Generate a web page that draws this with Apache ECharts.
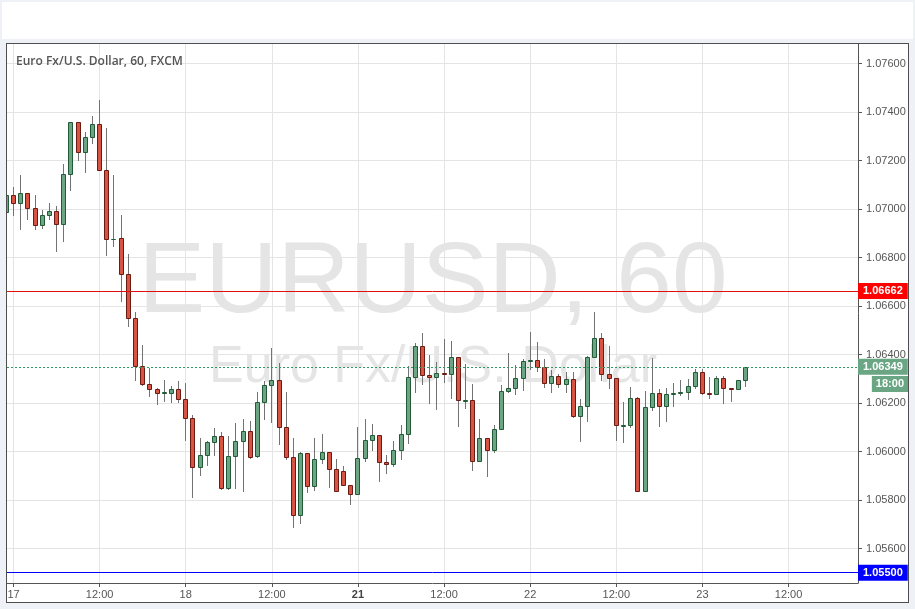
<!DOCTYPE html>
<html><head><meta charset="utf-8">
<script src="https://cdn.jsdelivr.net/npm/echarts@6/dist/echarts.min.js"></script>
<style>
html,body{margin:0;padding:0;width:915px;height:609px;background:#eef2f6;overflow:hidden}
#topbar{position:absolute;left:2px;top:2px;width:911px;height:37px;background:#fff}
#frame{position:absolute;left:6px;top:43px;width:901px;height:558px;background:#fff;border:1px solid #4e4e4e}
#chart{position:absolute;left:0;top:0;width:915px;height:609px}
</style></head>
<body>
<div id="topbar"></div>
<div id="frame"></div>
<div id="chart"></div>
<script>
// ---- data (hourly candles, EUR/USD, FXCM) ----
const opens  = [1.06986,1.07057,1.07024,1.07065,1.07003,1.06933,1.06974,1.06991,1.06937,1.07143,
1.07358,1.07234,1.07296,1.07349,1.07160,1.06876,1.06879,1.06731,1.06549,1.06354,
1.06277,1.06259,1.06243,1.06243,1.06257,1.06218,1.06139,1.05937,1.05984,1.06038,
1.06063,1.05848,1.05980,1.06042,1.06083,1.05983,1.06203,1.06273,1.06294,1.06100,
1.05979,1.05737,1.05993,1.05857,1.05968,1.05997,1.05927,1.05918,1.05861,1.05824,
1.05972,1.06046,1.06067,1.05956,1.05947,1.06005,1.06071,1.06306,1.06434,1.06314,
1.06306,1.06323,1.06320,1.06389,1.06210,1.06213,1.05960,1.06054,1.06005,1.06092,
1.06248,1.06261,1.06302,1.06372,1.06376,1.06347,1.06281,1.06310,1.06277,1.06298,
1.06145,1.06186,1.06389,1.06467,1.06318,1.06302,1.06107,1.06110,1.06219,1.05836,
1.06182,1.06240,1.06186,1.06237,1.06240,1.06244,1.06269,1.06327,1.06242,1.06236,
1.06302,1.06261,1.06257,1.06294];
const highs  = [1.07060,1.07091,1.07140,1.07066,1.07058,1.06996,1.07025,1.07011,1.07186,1.07360,
1.07360,1.07318,1.07384,1.07450,1.07333,1.07140,1.06974,1.06815,1.06575,1.06439,
1.06344,1.06260,1.06295,1.06270,1.06291,1.06283,1.06150,1.06054,1.06045,1.06097,
1.06080,1.06063,1.06118,1.06133,1.06126,1.06245,1.06290,1.06427,1.06366,1.06245,
1.06054,1.05997,1.05995,1.06054,1.06071,1.05999,1.05969,1.05939,1.05862,1.06100,
1.06133,1.06112,1.06068,1.05984,1.06045,1.06108,1.06351,1.06446,1.06489,1.06397,
1.06368,1.06464,1.06456,1.06390,1.06360,1.06277,1.06134,1.06055,1.06108,1.06273,
1.06405,1.06357,1.06380,1.06492,1.06450,1.06380,1.06336,1.06318,1.06328,1.06328,
1.06215,1.06393,1.06574,1.06487,1.06434,1.06303,1.06203,1.06265,1.06223,1.06248,
1.06384,1.06257,1.06261,1.06281,1.06295,1.06298,1.06339,1.06339,1.06306,1.06310,
1.06310,1.06262,1.06295,1.06350];
const lows   = [1.06980,1.06977,1.06919,1.06960,1.06919,1.06923,1.06960,1.06828,1.06869,1.07080,
1.07203,1.07154,1.07271,1.07159,1.06812,1.06849,1.06622,1.06519,1.06296,1.06276,
1.06230,1.06197,1.06210,1.06205,1.06205,1.06047,1.05814,1.05903,1.05944,1.05986,
1.05847,1.05845,1.05848,1.05838,1.05974,1.05976,1.06135,1.06123,1.06032,1.05970,
1.05690,1.05706,1.05834,1.05843,1.05954,1.05855,1.05835,1.05860,1.05785,1.05823,
1.05962,1.06007,1.05880,1.05910,1.05942,1.05970,1.06036,1.06247,1.06277,1.06198,
1.06177,1.06288,1.06219,1.06106,1.06180,1.05925,1.05959,1.05900,1.05997,1.06091,
1.06247,1.06236,1.06255,1.06339,1.06331,1.06265,1.06247,1.06265,1.06244,1.06144,
1.06045,1.06125,1.06388,1.06294,1.06261,1.06046,1.06038,1.06100,1.05835,1.05835,
1.06170,1.06107,1.06126,1.06186,1.06232,1.06215,1.06261,1.06239,1.06219,1.06235,
1.06199,1.06207,1.06256,1.06269];
const closes = [1.07057,1.07024,1.07065,1.07003,1.06933,1.06974,1.06991,1.06937,1.07143,1.07358,
1.07234,1.07296,1.07349,1.07160,1.06875,1.06878,1.06731,1.06549,1.06354,1.06277,
1.06259,1.06243,1.06245,1.06257,1.06218,1.06139,1.05937,1.05984,1.06038,1.06063,
1.05848,1.05980,1.06042,1.06083,1.05979,1.06203,1.06273,1.06294,1.06100,1.05979,
1.05737,1.05993,1.05857,1.05968,1.05997,1.05927,1.05836,1.05861,1.05824,1.05972,
1.06046,1.06067,1.05956,1.05947,1.06005,1.06071,1.06306,1.06434,1.06314,1.06306,
1.06323,1.06320,1.06389,1.06211,1.06213,1.05960,1.06054,1.06005,1.06092,1.06248,
1.06261,1.06302,1.06372,1.06376,1.06347,1.06281,1.06310,1.06277,1.06298,1.06145,
1.06186,1.06389,1.06467,1.06318,1.06302,1.06108,1.06110,1.06219,1.05836,1.06182,
1.06240,1.06186,1.06236,1.06240,1.06244,1.06269,1.06327,1.06240,1.06239,1.06302,
1.06261,1.06257,1.06294,1.06349];

// x-axis ticks (candle index) and labels
const xTickIdx    = [1, 13, 25, 37, 49, 61, 73, 85, 97, 109];
const xTickLabels = ['17','12:00','18','12:00','21','12:00','22','12:00','23','12:00'];
const xBoldLabels = ['21'];
// y-axis ticks
const yTicks = [1.056,1.058,1.060,1.062,1.064,1.066,1.068,1.070,1.072,1.074,1.076];
// horizontal levels
const redLevel  = 1.06662;
const blueLevel = 1.05500;
const lastPrice = 1.06349;
const barCountdown = '18:00';
const titleText = 'Euro Fx/U.S. Dollar, 60, FXCM';
const watermark1 = 'EURUSD, 60';
const watermark2 = 'Euro Fx/U.S. Dollar';

// axis ranges (visible window)
const X_MIN = 0.0943, X_MAX = 118.676;
const Y_MIN = 1.054576, Y_MAX = 1.076804;

const UP_FILL = '#6ba583', UP_BORDER = '#215a36';
const DN_FILL = '#d75442', DN_BORDER = '#6b1b12';
const WICK = '#737373';
const GRID = '#e4e4e4';
const AXIS_TXT = '#555555';

const candleData = opens.map((o, i) => [i, o, highs[i], lows[i], closes[i]]);

function renderCandle(params, api) {
  const k = api.value(0), o = api.value(1), h = api.value(2), l = api.value(3), c = api.value(4);
  const pO = api.coord([k, o]), pC = api.coord([k, c]);
  const pH = api.coord([k, h]), pL = api.coord([k, l]);
  const col = Math.floor(pO[0]);
  const up = c >= o;
  const yt = Math.round(Math.min(pO[1], pC[1]));
  const yb = Math.round(Math.max(pO[1], pC[1]));
  return {
    type: 'group',
    children: [
      { type: 'line', shape: { x1: col + 0.5, y1: Math.round(pH[1]), x2: col + 0.5, y2: Math.round(pL[1]) + 1 },
        style: { stroke: WICK, lineWidth: 1 } },
      { type: 'rect', shape: { x: col - 1.5, y: yt + 0.5, width: 4, height: Math.max(yb - yt, 0) },
        style: { fill: up ? UP_FILL : DN_FILL, stroke: up ? UP_BORDER : DN_BORDER, lineWidth: 1 } }
    ]
  };
}

function priceLabel(bg, text) {
  return {
    show: true, position: 'end', distance: 0, formatter: text,
    backgroundColor: bg, color: '#ffffff', fontWeight: 'bold',
    fontFamily: 'Liberation Sans, Arial, sans-serif', fontSize: 11,
    lineHeight: 12, padding: [2, 5, 2, 5]
  };
}

const chart = echarts.init(document.getElementById('chart'), null, { renderer: 'canvas' });
const option = {
  animation: false,
  backgroundColor: 'transparent',
  title: {
    text: titleText, left: 11, top: 51,
    textStyle: { fontFamily: 'Open Sans, sans-serif', fontSize: 12, fontWeight: 600, color: '#555555' }
  },
  grid: { left: 7, top: 44, width: 851, height: 539, containLabel: false },
  xAxis: [
    { type: 'value', min: X_MIN, max: X_MAX, position: 'bottom',
      axisLine: { show: true, onZero: false, lineStyle: { color: '#555555', width: 1 } },
      axisTick: { show: true, customValues: xTickIdx, length: 4, lineStyle: { color: '#555555' } },
      axisLabel: { show: true, customValues: xTickIdx, margin: 6, color: AXIS_TXT, fontSize: 11,
        fontFamily: 'Liberation Sans, Arial, sans-serif',
        formatter: function (v) {
          const i = xTickIdx.indexOf(Math.round(v));
          const t = i >= 0 ? xTickLabels[i] : '';
          return xBoldLabels.indexOf(t) >= 0 ? '{b|' + t + '}' : t;
        },
        rich: { b: { fontWeight: 'bold', color: '#444', fontSize: 11, fontFamily: 'Liberation Sans, Arial, sans-serif' } }
      },
      splitLine: { show: false } },
    { type: 'value', min: X_MIN, max: X_MAX, position: 'bottom',
      axisLine: { show: false, onZero: false },
      axisTick: { show: true, inside: true, customValues: xTickIdx, length: 539, lineStyle: { color: GRID } },
      axisLabel: { show: false }, splitLine: { show: false } }
  ],
  yAxis: [
    { type: 'value', min: Y_MIN, max: Y_MAX, position: 'right',
      axisLine: { show: true, lineStyle: { color: '#555555', width: 1 } },
      axisTick: { show: true, customValues: yTicks, length: 4, lineStyle: { color: '#555555' } },
      axisLabel: { show: true, customValues: yTicks, margin: 8, color: AXIS_TXT, fontSize: 11,
        fontFamily: 'Liberation Sans, Arial, sans-serif',
        formatter: v => v.toFixed(5) },
      splitLine: { show: false } },
    { type: 'value', min: Y_MIN, max: Y_MAX, position: 'right',
      axisLine: { show: false },
      axisTick: { show: true, inside: true, customValues: yTicks, length: 851, lineStyle: { color: GRID } },
      axisLabel: { show: false }, splitLine: { show: false } }
  ],
  graphic: [
    { type: 'text', x: 433, y: 284, z: 1, silent: true,
      style: { text: watermark1, fill: '#e5e5e5', font: '100px "Liberation Sans", Arial, sans-serif',
        textAlign: 'center', textVerticalAlign: 'middle' } },
    { type: 'text', x: 433, y: 368, z: 1, silent: true,
      style: { text: watermark2, fill: '#e5e5e5', font: '52px "Liberation Sans", Arial, sans-serif',
        textAlign: 'center', textVerticalAlign: 'middle' } }
  ],
  series: [
    { type: 'custom', name: 'EURUSD', xAxisIndex: 0, yAxisIndex: 0, clip: true, z: 3,
      data: candleData,
      encode: { x: 0, y: [1, 2, 3, 4] },
      renderItem: renderCandle,
      markLine: {
        silent: true, symbol: ['none', 'none'], animation: false, precision: 5,
        data: [
          { yAxis: redLevel, lineStyle: { color: '#e01010', width: 1, type: 'solid' },
            label: priceLabel('#ff0000', redLevel.toFixed(5)) },
          { yAxis: blueLevel, lineStyle: { color: '#0000ff', width: 1, type: 'solid' },
            label: priceLabel('#0000ff', blueLevel.toFixed(5)) },
          { yAxis: lastPrice, lineStyle: { color: '#2f9a60', width: 1, type: [2, 2] },
            label: priceLabel('#6aa584', lastPrice.toFixed(5)) }
        ]
      }
    }
  ]
};
chart.setOption(option);

// countdown box under the last-price label, positioned from the axis scale
const py = chart.convertToPixel({ yAxisIndex: 0 }, lastPrice);
const px = chart.convertToPixel({ xAxisIndex: 0 }, X_MAX);
chart.setOption({
  graphic: [
    option.graphic[0], option.graphic[1],
    { type: 'text', x: px + 50, y: Math.round(py) + 9, z: 10, silent: true,
      style: { text: barCountdown, fill: '#ffffff', font: 'bold 11px "Liberation Sans", Arial, sans-serif',
        textAlign: 'right', textVerticalAlign: 'top', backgroundColor: '#6aa584', padding: [2, 4, 2, 4], lineHeight: 12 } }
  ]
});
</script>
</body></html>
